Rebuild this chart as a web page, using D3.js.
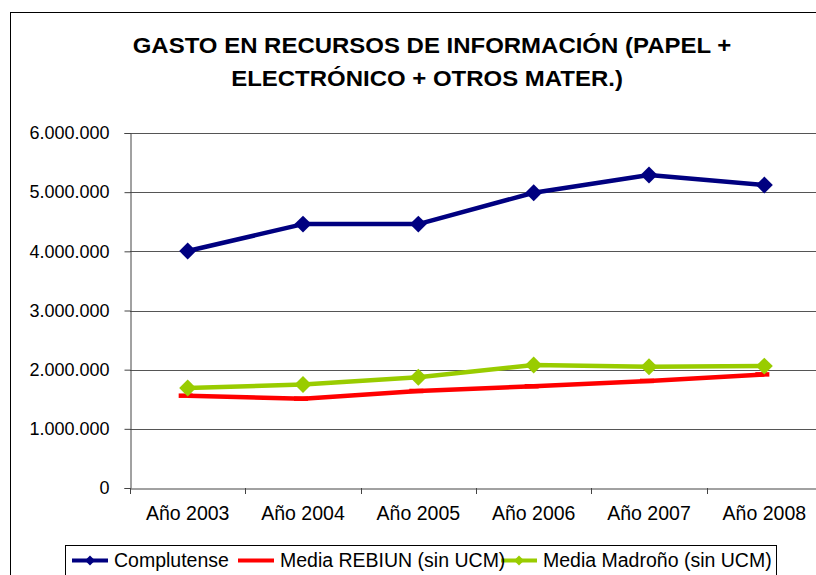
<!DOCTYPE html>
<html>
<head>
<meta charset="utf-8">
<script src="https://cdn.jsdelivr.net/npm/d3@7"></script>
<style>
  body { margin: 0; background: #fff; }
  text { font-family: "Liberation Sans", Arial, sans-serif; }
</style>
</head>
<body>
<script>
const width = 816;
const height = 575;

// chart values
const years = ["Año 2003", "Año 2004", "Año 2005", "Año 2006", "Año 2007", "Año 2008"];
const complutense = [4005000, 4460000, 4460000, 4990000, 5290000, 5120000];
const rebiun = [1560000, 1510000, 1640000, 1720000, 1810000, 1920000];
const madrono = [1690000, 1750000, 1870000, 2080000, 2050000, 2060000];
const yTicks = [0, 1000000, 2000000, 3000000, 4000000, 5000000, 6000000];
const seriesNames = ["Complutense", "Media REBIUN (sin UCM)", "Media Madroño (sin UCM)"];

const series = [
  {name: seriesNames[0], values: complutense, color: "#000080", marker: "diamond"},
  {name: seriesNames[1], values: rebiun, color: "#ff0000", marker: "dash"},
  {name: seriesNames[2], values: madrono, color: "#99cc00", marker: "diamond"}
];

const margin = {top: 133, right: -6, bottom: 87, left: 130};

const svg = d3.select("body").append("svg")
  .attr("width", width)
  .attr("height", height);

// outer chart frame
svg.append("rect")
  .attr("x", 10.5).attr("y", 12.5)
  .attr("width", 820).attr("height", 600)
  .attr("fill", "none").attr("stroke", "#000").attr("stroke-width", 1);

// title, stretched a little sideways like the original
const titleLines = [
  {text: "GASTO EN RECURSOS DE INFORMACIÓN (PAPEL +", cx: 432, y: 53},
  {text: "ELECTRÓNICO + OTROS MATER.)", cx: 427, y: 85.5}
];
svg.append("g")
  .selectAll("text")
  .data(titleLines)
  .join("text")
  .attr("transform", d => `translate(${d.cx},${d.y}) scale(1.09,1)`)
  .attr("text-anchor", "middle")
  .attr("font-size", 22)
  .attr("font-weight", "bold")
  .text(d => d.text);

const x = d3.scaleBand()
  .domain(years)
  .range([margin.left, width - margin.right])
  .padding(0);

const y = d3.scaleLinear()
  .domain([0, 6000000])
  .range([height - margin.bottom, margin.top]);

const fmt = v => v === 0 ? "0" : d3.format(",")(v).replace(/,/g, ".");

// gridlines
svg.append("g")
  .selectAll("line")
  .data(yTicks.filter(d => d > 0))
  .join("line")
  .attr("x1", margin.left).attr("x2", width - margin.right)
  .attr("y1", d => Math.round(y(d)) + 0.5).attr("y2", d => Math.round(y(d)) + 0.5)
  .attr("stroke", "#555").attr("stroke-width", 1);

// y axis
const yAxis = svg.append("g")
  .attr("transform", `translate(${margin.left + 0.5},0)`)
  .call(d3.axisLeft(y).tickValues(yTicks).tickFormat(fmt).tickSize(6).tickPadding(15));
yAxis.select(".domain").attr("stroke", "#444");
yAxis.selectAll(".tick line").attr("stroke", "#444");
yAxis.selectAll(".tick text")
  .attr("font-size", 18)
  .attr("fill", "#000");

// x axis
const xAxis = svg.append("g")
  .attr("transform", `translate(0,${Math.round(y(0)) + 0.5})`)
  .call(d3.axisBottom(x).tickSize(0).tickPadding(18));
xAxis.select(".domain").attr("stroke", "#444");
xAxis.selectAll(".tick text")
  .attr("font-size", 19.5)
  .attr("fill", "#000");
// category boundary ticks
svg.append("g")
  .selectAll("line")
  .data(years)
  .join("line")
  .attr("x1", d => Math.round(x(d)) + 0.5).attr("x2", d => Math.round(x(d)) + 0.5)
  .attr("y1", y(0)).attr("y2", y(0) + 6)
  .attr("stroke", "#444");

const line = d3.line()
  .x((d, i) => x(years[i]) + x.bandwidth() / 2)
  .y(d => y(d));

const diamond = d3.symbol().type(d3.symbolSquare).size(144);

series.forEach(s => {
  const g = svg.append("g");
  g.append("path")
    .datum(s.values)
    .attr("fill", "none")
    .attr("stroke", s.color)
    .attr("stroke-width", 4.5)
    .attr("stroke-linejoin", "round")
    .attr("d", line);
  if (s.marker === "diamond") {
    g.selectAll("path.m")
      .data(s.values)
      .join("path")
      .attr("class", "m")
      .attr("transform", (d, i) => `translate(${x(years[i]) + x.bandwidth() / 2},${y(d)}) rotate(45)`)
      .attr("d", diamond)
      .attr("fill", s.color);
  } else {
    g.selectAll("line.m")
      .data(s.values)
      .join("line")
      .attr("class", "m")
      .attr("x1", (d, i) => x(years[i]) + x.bandwidth() / 2 - 9)
      .attr("x2", (d, i) => x(years[i]) + x.bandwidth() / 2 + 5)
      .attr("y1", d => y(d)).attr("y2", d => y(d))
      .attr("stroke", s.color).attr("stroke-width", 4.5);
  }
});

// legend
const legend = svg.append("g");
legend.append("rect")
  .attr("x", 65.5).attr("y", 545.5)
  .attr("width", 711).attr("height", 40)
  .attr("fill", "#fff").attr("stroke", "#000");

const legendX = [72, 238, 501];
const legendMarker = d3.symbol().type(d3.symbolSquare).size(50);
series.forEach((s, i) => {
  const lx = legendX[i];
  const ly = 560.5;
  legend.append("line")
    .attr("x1", lx).attr("x2", lx + 36)
    .attr("y1", ly).attr("y2", ly)
    .attr("stroke", s.color).attr("stroke-width", 4);
  if (s.marker === "diamond") {
    legend.append("path")
      .attr("transform", `translate(${lx + 18},${ly}) rotate(45)`)
      .attr("d", legendMarker)
      .attr("fill", s.color);
  }
});
legend.selectAll("text")
  .data(seriesNames)
  .join("text")
  .attr("x", (d, i) => legendX[i] + 42)
  .attr("y", 567)
  .attr("font-size", 19.5)
  .attr("fill", "#000")
  .text(d => d);
</script>
</body>
</html>
